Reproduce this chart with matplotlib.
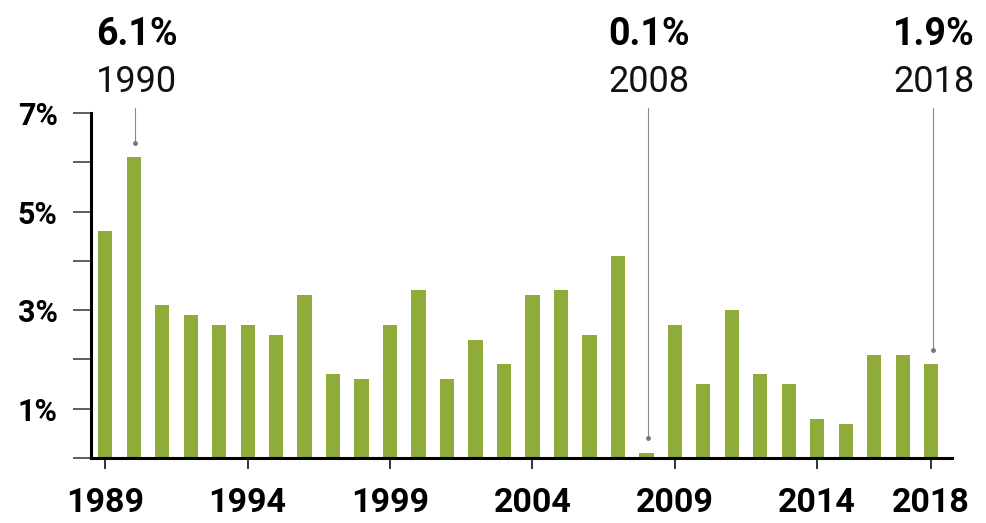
import numpy as np
import matplotlib
matplotlib.use('Agg')
import matplotlib.pyplot as plt

# yearly values (percent)
years = list(range(1989, 2019))
values = [4.6, 6.1, 3.1, 2.9, 2.7, 2.7, 2.5, 3.3, 1.7, 1.6,
          2.7, 3.4, 1.6, 2.4, 1.9, 3.3, 3.4, 2.5, 4.1, 0.1,
          2.7, 1.5, 3.0, 1.7, 1.5, 0.8, 0.7, 2.1, 2.1, 1.9]
xtick_years = [1989, 1994, 1999, 2004, 2009, 2014, 2018]
ytick_vals = [1, 3, 5, 7]
callout_years = [1990, 2008, 2018]

FONT = ['Roboto', 'DejaVu Sans']
GREEN = '#8fab3a'

fig = plt.figure(figsize=(9.87, 5.23), dpi=100)
ax = fig.add_axes([91/987, 65/523, (952-91)/987, (458-113)/523])

ax.bar(years, values, width=0.5, color=GREEN, zorder=2)

ax.set_xlim(1988.5, 2018.73)
ax.set_ylim(0, 7)

for s in ['top', 'right']:
    ax.spines[s].set_visible(False)
ax.spines['left'].set_linewidth(2.2)
ax.spines['bottom'].set_linewidth(2.2)
ax.spines['left'].set_zorder(3)
ax.spines['bottom'].set_zorder(3)

ax.set_yticks(range(0, 8))
ax.set_yticklabels([('%d%%' % v) if v in ytick_vals else '' for v in range(0, 8)])
ax.set_xticks(xtick_years)
ax.set_xticklabels([str(y) for y in xtick_years])
ax.tick_params(axis='y', length=13, width=1.1, color='#333333', pad=11)
ax.tick_params(axis='x', length=8, width=1.4, color='#333333', pad=13)
for lab in ax.get_yticklabels():
    lab.set_fontfamily(FONT)
    lab.set_fontweight('bold')
    lab.set_fontsize(22)
for lab in ax.get_xticklabels():
    lab.set_fontfamily(FONT)
    lab.set_fontweight('bold')
    lab.set_fontsize(24.5)

# callouts
for yr in callout_years:
    v = values[years.index(yr)]
    ax.plot([yr + 0.05, yr + 0.05], [7.1, v + 0.3], color='#888888', lw=0.8,
            clip_on=False, zorder=1)
    ax.plot([yr + 0.05], [v + 0.3], marker='o', ms=2.5, color='#777777',
            clip_on=False, zorder=1)
    ax.text(yr + 0.1, 8.38, '%.1f%%' % v, ha='center', va='baseline',
            fontsize=27, fontweight='bold', family=FONT, clip_on=False)
    ax.text(yr + 0.1, 7.42, str(yr), ha='center', va='baseline',
            fontsize=26, family=FONT, color='#111111', clip_on=False)

fig.savefig('out.png', dpi=100)
